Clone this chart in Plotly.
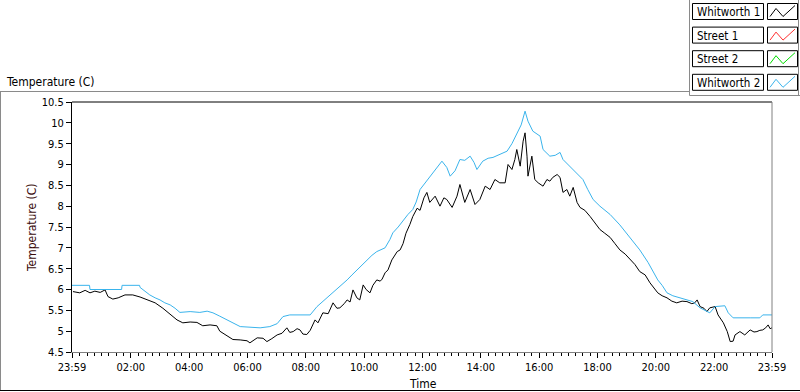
import plotly.graph_objects as go

# ---------------- data (minutes after 23:59 of the previous day) ----------------
minutes_w1 = [2, 16, 27, 37, 47, 58, 68, 74, 84, 95, 109, 125, 140, 154, 171, 187, 202, 216, 228, 243,
              257, 269, 284, 298, 304, 319, 331, 346, 360, 366, 381, 393, 401, 411, 422, 432, 442, 448,
              455, 463, 469, 475, 483, 490, 496, 500, 506, 516, 527, 537, 545, 551, 560, 566, 572, 578,
              586, 592, 599, 605, 613, 619, 627, 634, 638, 644, 650, 658, 669, 675, 681, 687, 695, 701,
              710, 716, 724, 730, 736, 747, 757, 765, 771, 782, 792, 798, 808, 819, 829, 839, 850, 860,
              870, 880, 891, 897, 905, 911, 915, 922, 928, 932, 936, 938, 946, 952, 959, 969, 977, 983,
              989, 998, 1004, 1010, 1018, 1024, 1031, 1039, 1045, 1055, 1066, 1076, 1086, 1096, 1107,
              1117, 1127, 1138, 1148, 1158, 1168, 1179, 1189, 1197, 1205, 1214, 1224, 1234, 1244, 1255,
              1265, 1275, 1281, 1286, 1292, 1300, 1306, 1312, 1323, 1329, 1335, 1340, 1348, 1354, 1360,
              1364, 1374, 1384, 1395, 1403, 1409, 1415, 1421, 1427, 1432, 1436, 1440]
temp_w1 = [5.95, 5.92, 5.98, 5.92, 5.96, 5.93, 5.99, 5.83, 5.77, 5.80, 5.87, 5.87, 5.82, 5.75, 5.68, 5.55,
           5.40, 5.27, 5.20, 5.22, 5.21, 5.13, 5.15, 5.13, 5.00, 4.88, 4.80, 4.79, 4.77, 4.72, 4.84, 4.83,
           4.75, 4.82, 4.91, 4.95, 5.08, 4.97, 4.99, 5.06, 5.03, 4.93, 4.92, 5.02, 5.15, 5.27, 5.20, 5.44,
           5.42, 5.68, 5.55, 5.56, 5.66, 5.75, 5.70, 5.99, 5.80, 5.75, 6.11, 6.00, 5.92, 6.10, 6.23, 6.20,
           6.25, 6.40, 6.47, 6.71, 6.91, 6.95, 7.10, 7.35, 7.56, 7.75, 7.95, 7.90, 8.20, 8.33, 8.09, 8.24,
           8.00, 8.20, 8.16, 7.97, 8.24, 8.52, 8.09, 8.40, 8.04, 8.16, 8.48, 8.40, 8.64, 8.56, 8.56, 9.00,
           8.88, 9.12, 9.36, 8.96, 9.56, 9.76, 9.20, 8.72, 9.20, 8.64, 8.56, 8.48, 8.64, 8.60, 8.69, 8.76,
           8.69, 8.33, 8.40, 8.24, 8.45, 8.09, 7.97, 7.90, 7.75, 7.60, 7.44, 7.35, 7.25, 7.10, 6.95, 6.85,
           6.72, 6.60, 6.43, 6.35, 6.16, 6.05, 5.92, 5.85, 5.80, 5.72, 5.68, 5.72, 5.71, 5.66, 5.68, 5.75,
           5.59, 5.55, 5.47, 5.56, 5.59, 5.39, 5.30, 5.20, 4.99, 4.75, 4.76, 4.91, 4.99, 4.91, 5.03, 4.98,
           4.99, 5.02, 5.03, 5.08, 5.15, 5.06, 5.08]

minutes_w2 = [0, 36, 37, 102, 103, 139, 140, 150, 160, 171, 181, 191, 202, 212, 222, 243, 263, 278, 290,
              304, 319, 331, 346, 387, 407, 422, 434, 448, 490, 504, 520, 537, 551, 566, 576, 586, 597,
              607, 617, 627, 644, 654, 660, 671, 681, 691, 701, 708, 716, 726, 736, 743, 753, 761, 771,
              778, 788, 798, 808, 819, 827, 833, 845, 856, 866, 880, 895, 905, 915, 924, 932, 938, 948,
              963, 969, 983, 994, 1004, 1010, 1020, 1031, 1041, 1051, 1061, 1072, 1086, 1107, 1127, 1148,
              1168, 1185, 1205, 1214, 1224, 1236, 1251, 1265, 1277, 1292, 1302, 1312, 1323, 1343, 1350,
              1360, 1395, 1415, 1421, 1440]
temp_w2 = [6.10, 6.10, 6.00, 6.00, 6.10, 6.10, 6.05, 5.95, 5.87, 5.80, 5.75, 5.68, 5.63, 5.55, 5.45, 5.47,
           5.45, 5.48, 5.44, 5.36, 5.27, 5.18, 5.11, 5.08, 5.11, 5.18, 5.35, 5.39, 5.39, 5.59, 5.75, 5.92,
           6.08, 6.23, 6.35, 6.47, 6.60, 6.71, 6.82, 6.91, 7.00, 7.20, 7.36, 7.50, 7.65, 7.80, 7.92, 8.10,
           8.40, 8.55, 8.72, 8.80, 8.95, 9.08, 8.93, 8.72, 8.85, 9.12, 9.10, 9.20, 9.05, 8.88, 9.08, 9.15,
           9.17, 9.25, 9.32, 9.50, 9.72, 9.95, 10.28, 10.04, 9.80, 9.68, 9.36, 9.20, 9.22, 9.29, 9.12, 9.00,
           8.88, 8.76, 8.64, 8.40, 8.16, 8.00, 7.80, 7.55, 7.25, 6.95, 6.65, 6.23, 6.10, 5.92, 5.85, 5.80,
           5.75, 5.71, 5.56, 5.50, 5.44, 5.59, 5.61, 5.44, 5.32, 5.32, 5.32, 5.39, 5.39]

tick_minutes = [0, 121, 241, 361, 481, 601, 721, 841, 961, 1081, 1201, 1321, 1440]
tick_labels = ["23:59", "02:00", "04:00", "06:00", "08:00", "10:00", "12:00",
               "14:00", "16:00", "18:00", "20:00", "22:00", "23:59"]
y_ticks = [4.5, 5, 5.5, 6, 6.5, 7, 7.5, 8, 8.5, 9, 9.5, 10, 10.5]

series_names = ["Whitworth 1", "Street 1", "Street 2", "Whitworth 2"]
series_colors = ["#000000", "#ff3030", "#00dd00", "#3ab4ec"]

# ---------------- figure ----------------
FONT = "DejaVu Sans Condensed, Liberation Sans, Arial, sans-serif"
W, H = 800, 392
L, R, T, B = 72, 28, 102, 40
PW, PH = W - L - R, H - T - B


def xp(px):
    return (px - L) / PW


def yp(py):
    return (H - B - py) / PH


fig = go.Figure()
fig.add_trace(go.Scatter(x=minutes_w1, y=temp_w1, mode="lines", name=series_names[0],
                         line=dict(color=series_colors[0], width=1)))
fig.add_trace(go.Scatter(x=minutes_w2, y=temp_w2, mode="lines", name=series_names[3],
                         line=dict(color=series_colors[3], width=1)))

fig.update_layout(
    width=W, height=H,
    margin=dict(l=L, r=R, t=T, b=B),
    paper_bgcolor="white", plot_bgcolor="white",
    showlegend=False,
    hovermode=False,
    font=dict(family=FONT, size=11, color="#000000"),
    xaxis=dict(range=[0, 1440], tickmode="array", tickvals=tick_minutes, ticktext=tick_labels,
               ticks="outside", ticklen=5, tickwidth=1, tickcolor="#000000",
               showgrid=False, zeroline=False, showline=True, linecolor="#808080", linewidth=1,
               minor=dict(ticks="outside", ticklen=3, tickwidth=1, tickcolor="#000000",
                          tick0=1, dtick=15, showgrid=False),
               tickfont=dict(family=FONT, size=11)),
    yaxis=dict(range=[4.5, 10.5], tickmode="array", tickvals=y_ticks,
               ticks="outside", ticklen=5, tickwidth=1, tickcolor="#000000",
               showgrid=False, zeroline=False, showline=True, linecolor="#000000", linewidth=1,
               tickfont=dict(family=FONT, size=11)),
)

shapes = []
# plot-area frame: black top, grey right
shapes.append(dict(type="line", xref="paper", yref="paper", x0=0, x1=1, y0=1, y1=1,
                   line=dict(color="#000000", width=1)))
shapes.append(dict(type="line", xref="paper", yref="paper", x0=1, x1=1, y0=0, y1=1,
                   line=dict(color="#808080", width=1)))
# outer panel frame
grey = "#8a8a8a"
for (x0, y0, x1, y1, c) in [
    (0, 91.5, 689.5, 91.5, grey),
    (689.5, 0, 689.5, 95.5, grey),
    (689.5, 95.5, 800, 95.5, grey),
    (798.5, 0, 798.5, 95.5, grey),
    (0.5, 91.5, 0.5, 390.5, grey),
    (0, 390.5, 800, 390.5, "#000000"),
]:
    shapes.append(dict(type="line", xref="paper", yref="paper",
                       x0=xp(x0), x1=xp(x1), y0=yp(y0), y1=yp(y1),
                       line=dict(color=c, width=1)))

annotations = [
    dict(text="Temperature (C)", xref="paper", yref="paper", x=xp(4), y=yp(82),
         xanchor="left", yanchor="middle", showarrow=False, font=dict(family=FONT, size=12)),
    dict(text="Temperature (C)", xref="paper", yref="paper", x=xp(32), y=yp(228), textangle=-90,
         xanchor="center", yanchor="middle", showarrow=False,
         font=dict(family=FONT, size=12, color="#3a0c0c")),
    dict(text="Time", xref="paper", yref="paper", x=xp(423), y=yp(384),
         xanchor="center", yanchor="middle", showarrow=False, font=dict(family=FONT, size=12)),
]

# boxed legend (top right)
for i, (name, col) in enumerate(zip(series_names, series_colors)):
    top = 3.5 + i * 23.6
    bot = top + 16
    shapes.append(dict(type="rect", xref="paper", yref="paper",
                       x0=xp(692.5), x1=xp(763.5), y0=yp(bot), y1=yp(top),
                       line=dict(color="#000000", width=1), fillcolor="white"))
    shapes.append(dict(type="rect", xref="paper", yref="paper",
                       x0=xp(767.5), x1=xp(797.5), y0=yp(bot), y1=yp(top),
                       line=dict(color="#000000", width=1), fillcolor="white"))
    pts = [(770, bot - 3), (776, top + 5), (783, bot - 3), (795, top + 2)]
    path = "M " + " L ".join(f"{xp(a)},{yp(b)}" for a, b in pts)
    shapes.append(dict(type="path", xref="paper", yref="paper", path=path,
                       line=dict(color=col, width=1)))
    annotations.append(dict(text=name, xref="paper", yref="paper", x=xp(695), y=yp(top + 8.5),
                            xanchor="left", yanchor="middle", showarrow=False,
                            font=dict(family=FONT, size=11.5)))

fig.update_layout(shapes=shapes, annotations=annotations)
fig.write_html("out.html", config={"displayModeBar": False, "staticPlot": True},
               post_script="document.body.style.margin='0';document.body.style.overflow='hidden';")
